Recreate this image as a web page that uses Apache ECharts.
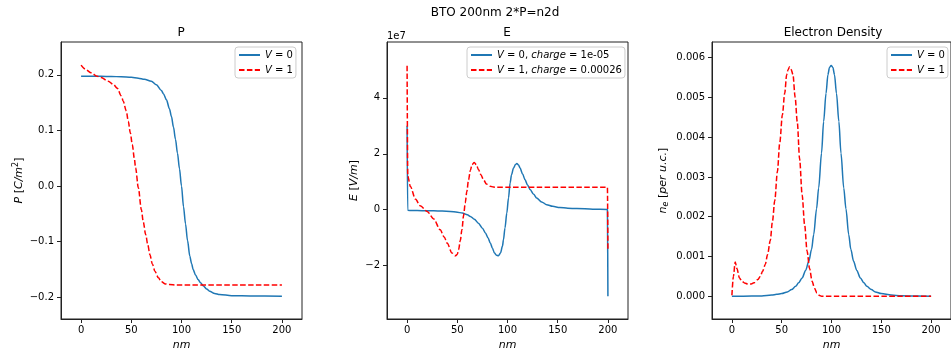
<!DOCTYPE html>
<html><head><meta charset="utf-8">
<script src="https://cdn.jsdelivr.net/npm/echarts@6/dist/echarts.min.js"></script>
<style>html,body{margin:0;padding:0;background:#fff}#c{width:951px;height:356px}</style>
</head><body><div id="c"></div>
<script>
// ---------- data ----------
const xTicks = [0, 50, 100, 150, 200];
const pTicks = [-0.2, -0.1, 0.0, 0.1, 0.2];
const eTicks = [-2e7, 0, 2e7, 4e7];
const nTicks = [0, 0.001, 0.002, 0.003, 0.004, 0.005, 0.006];

// P panel
const pNm_V0 = [0, 10, 20, 30, 40, 50, 57, 63, 70, 75, 80, 82, 85, 88, 90, 92, 94, 96, 98, 100, 102, 104, 106, 108.3, 110, 111.6, 114, 116.5, 119, 121.5, 125, 128, 133, 138, 150, 170, 200];
const p_V0 = [0.1975, 0.1975, 0.1973, 0.197, 0.1965, 0.1955, 0.194, 0.192, 0.1886, 0.182, 0.1716, 0.166, 0.155, 0.139, 0.125, 0.106, 0.084, 0.059, 0.031, 0.0, -0.037, -0.068, -0.098, -0.126, -0.139, -0.150, -0.160, -0.168, -0.174, -0.179, -0.185, -0.189, -0.193, -0.195, -0.197, -0.1975, -0.198];
const pNm_V1 = [0, 5, 10, 16, 20, 27, 32, 36, 40, 42, 45, 47, 49, 51, 53, 54.3, 57, 60, 62, 64.3, 66.5, 68.5, 71, 73.5, 77, 80, 84, 88, 95, 200];
const p_V1 = [0.2174, 0.209, 0.2035, 0.1975, 0.195, 0.1886, 0.183, 0.176, 0.162, 0.1526, 0.135, 0.1166, 0.096, 0.0747, 0.05, 0.0327, -0.003, -0.042, -0.065, -0.087, -0.106, -0.123, -0.140, -0.153, -0.165, -0.172, -0.176, -0.177, -0.178, -0.178];

// E panel
const eNm_V0 = [0, 0.6, 5, 15, 26.5, 35, 43, 50, 55, 60, 63, 67, 71, 75, 78, 80.5, 83, 85, 87, 89, 91, 93, 95, 96, 97.5, 99.3, 101, 102.6, 104, 106, 108, 109.3, 111, 112.5, 115, 117.5, 120, 122.5, 126, 129, 134, 139, 145, 152, 160, 169, 185, 199.5, 200];
const e_V0 = [3.0e7, -0.02e7, -0.03e7, -0.035e7, -0.04e7, -0.05e7, -0.06e7, -0.09e7, -0.12e7, -0.18e7, -0.24e7, -0.34e7, -0.48e7, -0.66e7, -0.83e7, -1.0e7, -1.2e7, -1.38e7, -1.55e7, -1.63e7, -1.65e7, -1.55e7, -1.3e7, -1.07e7, -0.65e7, -0.12e7, 0.42e7, 0.96e7, 1.25e7, 1.49e7, 1.62e7, 1.65e7, 1.6e7, 1.49e7, 1.28e7, 1.07e7, 0.88e7, 0.72e7, 0.55e7, 0.42e7, 0.28e7, 0.18e7, 0.12e7, 0.08e7, 0.055e7, 0.04e7, 0.02e7, 0.01e7, -3.10e7];
const eNm_V1 = [0, 0.7, 3.3, 8.3, 13, 20, 26.5, 33, 37, 40, 44.7, 48, 50, 51.3, 53, 54.6, 56.3, 57.9, 59.5, 61.2, 63, 64.6, 66.9, 69, 71.2, 73.5, 76.1, 79, 82.7, 86, 89.4, 100, 199.5, 200];
const e_V1 = [5.15e7, 1.2e7, 0.83e7, 0.38e7, 0.14e7, -0.06e7, -0.33e7, -0.72e7, -0.98e7, -1.2e7, -1.55e7, -1.65e7, -1.6e7, -1.43e7, -1.1e7, -0.72e7, -0.2e7, 0.24e7, 0.65e7, 1.07e7, 1.4e7, 1.61e7, 1.69e7, 1.6e7, 1.43e7, 1.25e7, 1.07e7, 0.92e7, 0.84e7, 0.81e7, 0.80e7, 0.80e7, 0.80e7, -1.45e7];

// Electron density panel
const nNm_V0 = [0, 20, 30, 40, 45, 50, 55.6, 60, 64, 67, 70.5, 74, 77.2, 80, 82.1, 85, 87.1, 90, 92.1, 94.5, 96.4, 98, 99.7, 101.4, 103, 105, 107.4, 109.5, 112.3, 114.5, 117.3, 119.4, 122.2, 125.4, 129, 132.5, 135.5, 140, 144, 150, 160, 170, 185, 200];
const n_V0 = [0, 0.000005, 0.00001, 0.00003, 0.00005, 0.00007, 0.00011, 0.00017, 0.00025, 0.00034, 0.00046, 0.00065, 0.00088, 0.00118, 0.00155, 0.0022, 0.00272, 0.0036, 0.00439, 0.0051, 0.00557, 0.00575, 0.0058, 0.00575, 0.00557, 0.0051, 0.00439, 0.0036, 0.00272, 0.0022, 0.00155, 0.00118, 0.00088, 0.00065, 0.00046, 0.00034, 0.00025, 0.00017, 0.00011, 0.00007, 0.00003, 0.000015, 0.000005, 0];
const nNm_V1 = [0, 1.5, 3.3, 5, 7.6, 10, 12.6, 16, 19.3, 23, 25.9, 28.5, 30.8, 33.5, 35.8, 38.5, 40.7, 43, 45.7, 48, 50.7, 53, 55, 56.5, 58, 59.5, 61.3, 63.5, 65.6, 68, 70.5, 73, 75.5, 78, 80.5, 83, 85.4, 88, 90, 200];
const n_V1 = [0.000025, 0.0005, 0.000864, 0.0007, 0.00046, 0.00038, 0.000336, 0.00031, 0.00031, 0.00035, 0.00042, 0.0005, 0.00063, 0.0008, 0.00105, 0.0014, 0.00188, 0.0024, 0.00314, 0.00385, 0.00456, 0.0051, 0.00557, 0.0057, 0.00577, 0.0057, 0.00557, 0.005, 0.00439, 0.00345, 0.00255, 0.0018, 0.00113, 0.0007, 0.00038, 0.0002, 0.000085, 0.00002, 0, 0];

const names = ['V = 0', 'V = 1', 'V = 0, charge = 1e-05', 'V = 1, charge = 0.00026'];

// ---------- chart ----------
const zip = (a, b) => a.map((x, i) => [x, b[i]]);
const BLUE = '#1f77b4', RED = '#ff0000';
const FONT = 'DejaVu Sans';
const minus = s => String(s).replace('-', '\u2212');
const SPINE = '#222';

const grids = [
  {left: 61, top: 42, width: 241, height: 277},
  {left: 387, top: 42, width: 241, height: 277},
  {left: 712, top: 42, width: 241, height: 277}
];
const yNames = ['{i|P} [{i|C/m}{sup|2}]', '{i|E} [{i|V/m}]', '{i|n}{sub|e} [{i|per u.c.}]'];
const yGaps = [34, 27, 42];
const yRanges = [[-0.239, 0.259], [-3.91e7, 6.0e7], [-0.00057, 0.00639]];
const yTickSets = [pTicks, eTicks, nTicks];
const yFmt = [v => minus(v.toFixed(1)), v => minus(Math.round(v / 1e7)), v => minus(v.toFixed(3))];

const richName = {
  i: {fontStyle: 'italic', fontFamily: FONT, fontSize: 11, color: '#000'},
  sup: {fontStyle: 'normal', fontFamily: FONT, fontSize: 8, color: '#000', padding: [0, 0, 7, 0]},
  sub: {fontStyle: 'italic', fontFamily: FONT, fontSize: 8, color: '#000', padding: [6, 0, 0, 0]}
};

const xAxes = grids.map((g, i) => ({
  type: 'value', gridIndex: i, min: -20, max: 220,
  name: 'nm', nameLocation: 'middle', nameGap: 19,
  nameTextStyle: {fontStyle: 'italic', fontFamily: FONT, fontSize: 11, color: '#000'},
  axisLine: {show: true, onZero: false, lineStyle: {color: SPINE, width: 1}},
  axisTick: {show: true, inside: false, length: 4, customValues: xTicks, lineStyle: {color: SPINE, width: 1}},
  axisLabel: {customValues: xTicks, margin: 6, fontFamily: FONT, fontSize: 10, color: '#000'},
  splitLine: {show: false}
}));
const yAxes = grids.map((g, i) => ({
  type: 'value', gridIndex: i, min: yRanges[i][0], max: yRanges[i][1],
  name: yNames[i], nameLocation: 'middle', nameGap: yGaps[i],
  nameTextStyle: {fontFamily: FONT, fontSize: 11, color: '#000', rich: richName},
  axisLine: {show: true, onZero: false, lineStyle: {color: SPINE, width: 1}},
  axisTick: {show: true, inside: false, length: 4, customValues: yTickSets[i], lineStyle: {color: SPINE, width: 1}},
  axisLabel: {customValues: yTickSets[i], margin: 7, fontFamily: FONT, fontSize: 10, color: '#000', formatter: yFmt[i]},
  splitLine: {show: false}
}));

function line(name, xi, data, color, dashed) {
  return {
    type: 'line', name, xAxisIndex: xi, yAxisIndex: xi, data,
    showSymbol: false, symbol: 'none', smooth: 0.3, smoothMonotone: 'x',
    lineStyle: {color, width: 1.5, type: dashed ? [5.5, 2.4] : 'solid'},
    itemStyle: {color},
    emphasis: {disabled: true}, animation: false
  };
}

const legendRich = {
  i: {fontStyle: 'italic', fontFamily: FONT, fontSize: 10, color: '#000'},
  n: {fontFamily: FONT, fontSize: 10, color: '#000'}
};
function legendFmt(name) {
  const m = name.match(/^V = (\d)(, charge = (.*))?$/);
  if (!m) return name;
  let s = '{i|V}{n| = ' + m[1] + '}';
  if (m[2]) s += '{n|, }{i|charge}{n| = ' + m[3] + '}';
  return s;
}
function legend(left, data) {
  return {
    left, top: 47, orient: 'vertical', data,
    itemWidth: 21, itemHeight: 10, itemGap: 5,
    padding: [3, 3, 3, 3],
    borderColor: '#cccccc', borderWidth: 1, borderRadius: 3,
    backgroundColor: 'rgba(255,255,255,0.8)',
    itemStyle: {opacity: 0},
    formatter: legendFmt,
    textStyle: {fontFamily: FONT, fontSize: 10, color: '#000', rich: legendRich},
    selectedMode: false
  };
}

const option = {
  animation: false,
  backgroundColor: '#fff',
  grid: grids.map(g => Object.assign({show: true, borderColor: SPINE, borderWidth: 1, backgroundColor: 'transparent', containLabel: false}, g)),
  xAxis: xAxes,
  yAxis: yAxes,
  legend: [legend(235, [names[0], names[1]]), legend(467, [names[2], names[3]]), legend(887, [names[0], names[1]])],
  series: [
    line(names[0], 0, zip(pNm_V0, p_V0), BLUE, false),
    line(names[1], 0, zip(pNm_V1, p_V1), RED, true),
    line(names[2], 1, zip(eNm_V0, e_V0), BLUE, false),
    line(names[3], 1, zip(eNm_V1, e_V1), RED, true),
    line(names[0], 2, zip(nNm_V0, n_V0), BLUE, false),
    line(names[1], 2, zip(nNm_V1, n_V1), RED, true)
  ],
  graphic: [
    {type: 'text', x: 495, y: 13, style: {text: 'BTO 200nm 2*P=n2d', font: '12px "DejaVu Sans"', fill: '#000', textAlign: 'center', textVerticalAlign: 'middle'}},
    {type: 'text', x: 181, y: 33, style: {text: 'P', font: '12px "DejaVu Sans"', fill: '#000', textAlign: 'center', textVerticalAlign: 'middle'}},
    {type: 'text', x: 507, y: 33, style: {text: 'E', font: '12px "DejaVu Sans"', fill: '#000', textAlign: 'center', textVerticalAlign: 'middle'}},
    {type: 'text', x: 833, y: 33, style: {text: 'Electron Density', font: '12px "DejaVu Sans"', fill: '#000', textAlign: 'center', textVerticalAlign: 'middle'}},
    {type: 'text', x: 387, y: 36, style: {text: '1e7', font: '10px "DejaVu Sans"', fill: '#000', textAlign: 'left', textVerticalAlign: 'middle'}}
  ]
};
const chart = echarts.init(document.getElementById('c'), null, {renderer: 'canvas'});
chart.setOption(option);
</script>
</body></html>
